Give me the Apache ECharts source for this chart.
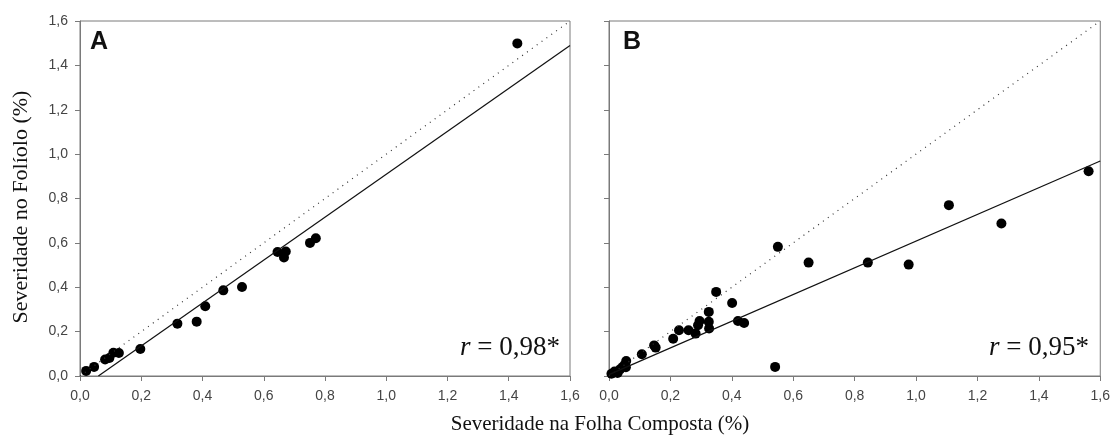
<!DOCTYPE html>
<html>
<head>
<meta charset="utf-8">
<script src="https://cdn.jsdelivr.net/npm/echarts@6/dist/echarts.min.js"></script>
<style>
  html, body { margin: 0; padding: 0; background: #fff; }
  #chart { width: 1113px; height: 439px; }
</style>
</head>
<body>
<div id="chart"></div>
<script>
// painel A
var xA = [0.02, 0.046, 0.082, 0.096, 0.109, 0.127, 0.197, 0.318, 0.381, 0.409, 0.468, 0.529, 0.645, 0.672, 0.666, 0.751, 0.770, 1.428];
var yA = [0.023, 0.041, 0.074, 0.081, 0.105, 0.104, 0.122, 0.236, 0.245, 0.314, 0.386, 0.401, 0.559, 0.561, 0.534, 0.600, 0.621, 1.499];
// painel B
var xB = [0.008, 0.018, 0.028, 0.036, 0.045, 0.052, 0.056, 0.055, 0.107, 0.147, 0.152, 0.209, 0.228, 0.259, 0.282, 0.290, 0.295, 0.325, 0.326, 0.325, 0.349, 0.401, 0.420, 0.440, 0.541, 0.550, 0.650, 0.843, 0.976, 1.107, 1.278, 1.562];
var yB = [0.010, 0.020, 0.014, 0.030, 0.042, 0.050, 0.068, 0.040, 0.098, 0.138, 0.128, 0.168, 0.206, 0.206, 0.191, 0.229, 0.248, 0.244, 0.214, 0.289, 0.379, 0.329, 0.248, 0.239, 0.041, 0.582, 0.511, 0.511, 0.502, 0.770, 0.687, 0.923];
// regressao [inclinacao, intercepto]
var regA = [0.967, -0.058];
var regB = [0.602, 0.006];
var ticks = [0, 0.2, 0.4, 0.6, 0.8, 1.0, 1.2, 1.4, 1.6];
var rTexts = ['0,98*', '0,95*'];

function pairs(xs, ys) {
  return xs.map(function (v, i) { return [v, ys[i]]; });
}
function regLine(c) {
  var x0 = Math.max(0, -c[1] / c[0]);
  return [[x0, c[0] * x0 + c[1]], [1.6, c[0] * 1.6 + c[1]]];
}
var fmt = function (v) { return v.toFixed(1).replace('.', ','); };

var axisGray = '#7a7a7a';
function xAxis(idx) {
  return {
    gridIndex: idx, type: 'value', min: ticks[0], max: ticks[ticks.length - 1], interval: 0.2,
    axisLine: { show: true, lineStyle: { color: axisGray, width: 1 } },
    axisTick: { show: true, inside: false, length: 5, lineStyle: { color: axisGray } },
    axisLabel: { formatter: fmt, color: '#444', fontFamily: 'Liberation Sans', fontSize: 14, margin: 13 },
    splitLine: { show: false }
  };
}
function yAxis(idx, labels) {
  return {
    gridIndex: idx, type: 'value', min: ticks[0], max: ticks[ticks.length - 1], interval: 0.2,
    axisLine: { show: true, lineStyle: { color: axisGray, width: 1 } },
    axisTick: { show: true, inside: false, length: 5, lineStyle: { color: axisGray } },
    axisLabel: { show: labels, formatter: fmt, color: '#444', fontFamily: 'Liberation Sans', fontSize: 14, margin: 12 },
    splitLine: { show: false }
  };
}
var rich = {
  i: { font: 'italic 27px "Liberation Serif"', fill: '#111' },
  n: { font: '27px "Liberation Serif"', fill: '#111' }
};

var option = {
  backgroundColor: '#fff',
  animation: false,
  grid: [
    { left: 80, top: 21, width: 490, height: 355, show: true, borderColor: axisGray, borderWidth: 1 },
    { left: 609, top: 21, width: 492, height: 355, show: true, borderColor: axisGray, borderWidth: 1 }
  ],
  xAxis: [xAxis(0), xAxis(1)],
  yAxis: [yAxis(0, true), yAxis(1, false)],
  graphic: [
    { type: 'text', left: 90, top: 30, style: { text: 'A', font: 'bold 25px "Liberation Sans"', fill: '#111' } },
    { type: 'text', left: 623, top: 30, style: { text: 'B', font: 'bold 25px "Liberation Sans"', fill: '#111' } },
    { type: 'text', right: 1113 - 560, top: 334, style: { rich: rich, text: '{i|r}{n| = ' + rTexts[0] + '}' } },
    { type: 'text', right: 1113 - 1089, top: 334, style: { rich: rich, text: '{i|r}{n| = ' + rTexts[1] + '}' } },
    { type: 'text', x: 600, y: 424, style: { text: 'Severidade na Folha Composta (%)', font: '21px "Liberation Serif"', fill: '#111', align: 'center', verticalAlign: 'middle' } },
    { type: 'text', x: 21, y: 207, rotation: Math.PI / 2, style: { text: 'Severidade no Folíolo (%)', font: '22px "Liberation Serif"', fill: '#111', align: 'center', verticalAlign: 'middle' } }
  ],
  series: [
    { type: 'line', xAxisIndex: 0, yAxisIndex: 0, data: [[0, 0], [1.6, 1.6]], symbol: 'none', lineStyle: { color: '#333', width: 1.2, type: [1, 5] } },
    { type: 'line', xAxisIndex: 0, yAxisIndex: 0, data: regLine(regA), symbol: 'none', lineStyle: { color: '#111', width: 1.2 } },
    { type: 'scatter', xAxisIndex: 0, yAxisIndex: 0, data: pairs(xA, yA), symbolSize: 10, itemStyle: { color: '#000', opacity: 1 } },
    { type: 'line', xAxisIndex: 1, yAxisIndex: 1, data: [[0, 0], [1.6, 1.6]], symbol: 'none', lineStyle: { color: '#333', width: 1.2, type: [1, 5] } },
    { type: 'line', xAxisIndex: 1, yAxisIndex: 1, data: regLine(regB), symbol: 'none', lineStyle: { color: '#111', width: 1.2 } },
    { type: 'scatter', xAxisIndex: 1, yAxisIndex: 1, data: pairs(xB, yB), symbolSize: 10, itemStyle: { color: '#000', opacity: 1 } }
  ]
};

var chart = echarts.init(document.getElementById('chart'));
chart.setOption(option);
</script>
</body>
</html>
